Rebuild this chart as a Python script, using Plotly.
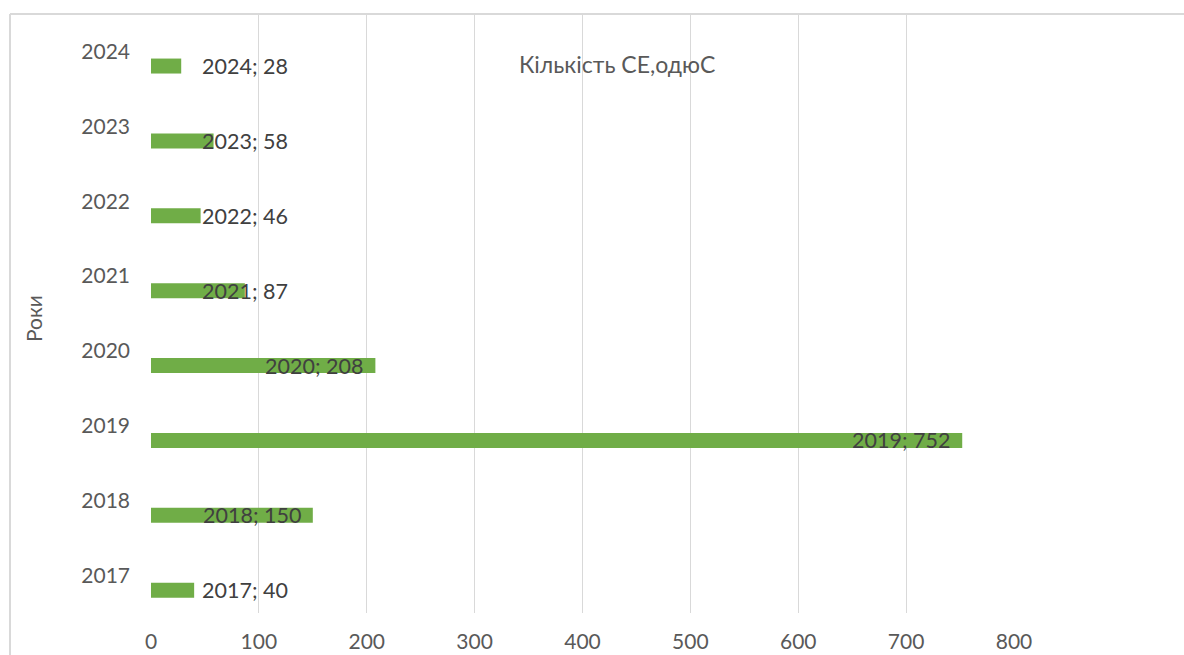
import plotly.graph_objects as go

years = ["2017", "2018", "2019", "2020", "2021", "2022", "2023", "2024"]
counts = [40, 150, 752, 208, 87, 46, 58, 28]
x_ticks = [0, 100, 200, 300, 400, 500, 600, 700, 800]
chart_title = "Кількість СЕ,одюС"
y_title = "Роки"

W, H = 1184, 655
ML, MR, MT, MB = 151, 170, 14, 42
BAR_COLOR = "#70ad47"
GRID = "#d9d9d9"
TXT = "#595959"
LBL = "#404040"
FONT = "Lato, 'Open Sans', sans-serif"

idx = list(range(len(years)))
bar_offset = 0.195

fig = go.Figure()
fig.add_trace(go.Bar(
    x=counts,
    y=[i - bar_offset for i in idx],
    orientation="h",
    width=0.2,
    marker=dict(color=BAR_COLOR, line=dict(width=0)),
    hoverinfo="skip",
))

annotations = []
for i, (yr, v) in enumerate(zip(years, counts)):
    small = v < 100
    annotations.append(dict(
        x=45 if small else v,
        y=i - bar_offset,
        xref="x", yref="y",
        text=f"{yr}; {v}",
        showarrow=False,
        xanchor="left" if small else "right",
        xshift=0 if small else -10,
        yanchor="middle",
        font=dict(family=FONT, size=21.5, color=LBL),
    ))

pw = W - ML - MR
ph = H - MT - MB

annotations.append(dict(
    x=(617 - ML) / pw, y=1 - (64 - MT) / ph,
    xref="paper", yref="paper", text=chart_title, showarrow=False,
    xanchor="center", yanchor="middle",
    font=dict(family=FONT, size=23, color=TXT),
))
annotations.append(dict(
    x=(33 - ML) / pw, y=1 - (318 - MT) / ph,
    xref="paper", yref="paper", text=y_title, showarrow=False,
    textangle=-90, xanchor="center", yanchor="middle",
    font=dict(family=FONT, size=21, color=TXT),
))

left_px = 10
top_px = 14
x_left = (left_px - ML) / pw
x_right = (W + 5 - ML) / pw
y_top = 1 - (top_px - MT) / ph
y_bot = 1 - (H + 5 - MT) / ph
shapes = [
    dict(type="line", xref="paper", yref="paper", x0=x_left, x1=x_right,
         y0=y_top, y1=y_top, line=dict(color=GRID, width=2)),
    dict(type="line", xref="paper", yref="paper", x0=x_left, x1=x_left,
         y0=y_top, y1=y_bot, line=dict(color=GRID, width=2)),
]

fig.update_layout(
    width=W, height=H,
    margin=dict(l=ML, r=MR, t=MT, b=MB, pad=0, autoexpand=False),
    paper_bgcolor="white", plot_bgcolor="white",
    showlegend=False,
    annotations=annotations,
    shapes=shapes,
    xaxis=dict(
        range=[0, 800], tickvals=x_ticks, ticktext=[str(t) for t in x_ticks],
        showgrid=True, gridcolor=GRID, gridwidth=1, zeroline=False,
        showline=False, ticks="", ticklabelstandoff=14, automargin=False,
        tickfont=dict(family=FONT, size=21, color=TXT), fixedrange=True,
    ),
    yaxis=dict(
        range=[-0.5, len(years) - 0.5], tickvals=idx, ticktext=years,
        showgrid=False, zeroline=False, showline=False, ticks="",
        ticklabelstandoff=20, automargin=False,
        tickfont=dict(family=FONT, size=21, color=TXT), fixedrange=True,
    ),
    font=dict(family=FONT),
)

fig.write_html("out.html")
